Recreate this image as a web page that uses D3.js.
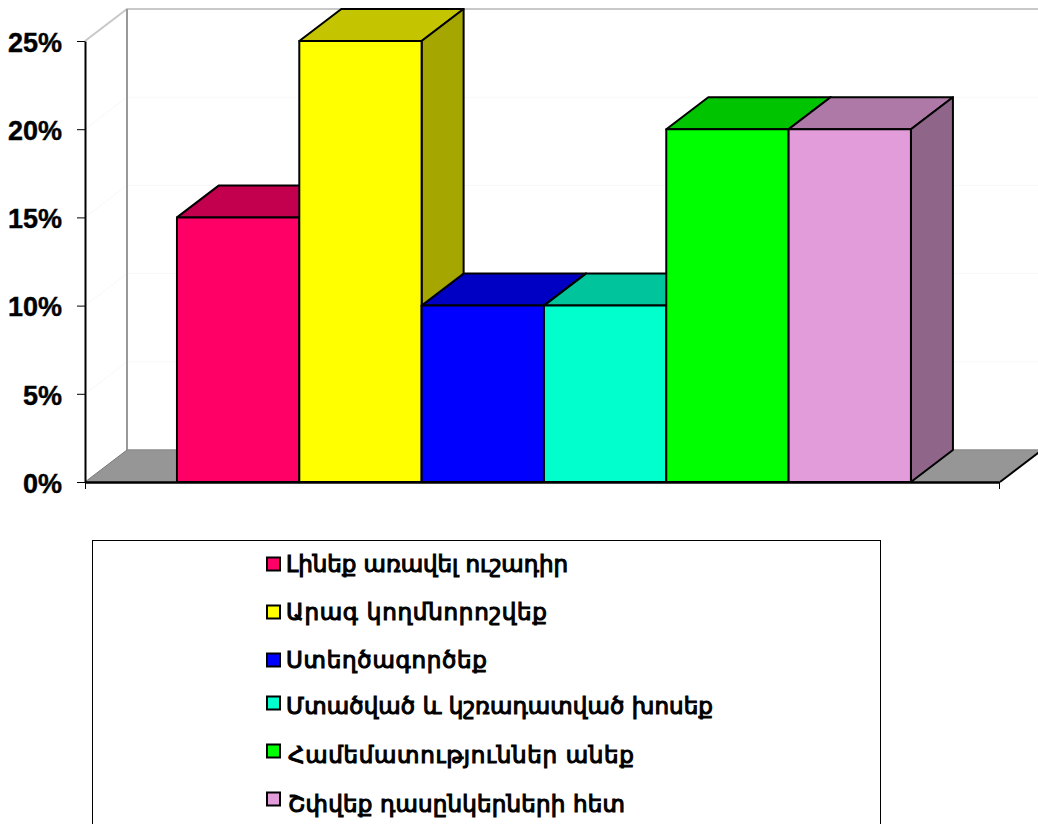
<!DOCTYPE html>
<html lang="hy">
<head>
<meta charset="utf-8">
<script src="https://cdn.jsdelivr.net/npm/d3@7/dist/d3.min.js"></script>
<style>
  html, body { margin: 0; padding: 0; background: #fff; overflow: hidden; }
  svg { display: block; }
  .tick-label { font: bold 27px "Liberation Sans", Arial, sans-serif; fill: #000; stroke: #000; stroke-width: 0.4px; }
  .legend-label { font: normal 23px "DejaVu Sans", sans-serif; fill: #000; stroke: #000; stroke-width: 1.1px; }
</style>
</head>
<body>
<svg id="chart" width="1038" height="824"></svg>
<script>
// Survey answers, one bar per recommendation
const categories = [
  "Լինեք առավել ուշադիր",
  "Արագ կողմնորոշվեք",
  "Ստեղծագործեք",
  "Մտածված և կշռադատված խոսեք",
  "Համեմատություններ անեք",
  "Շփվեք դասընկերների հետ"
];
const shares = [0.15, 0.25, 0.10, 0.10, 0.20, 0.20];
const faceColors = ["#ff0066", "#ffff00", "#0000ff", "#00ffcc", "#00ff00", "#e29cd9"];
const topColors = ["#c3004e", "#c4c400", "#0000c4", "#00c49c", "#00c400", "#ae78a7"];
const sideColors = ["#a60042", "#a6a600", "#0000a6", "#00a685", "#00a600", "#8f668a"];
const yTicks = [0, 0.05, 0.10, 0.15, 0.20, 0.25];

// Oblique projection offset of the chart box
const depthX = 42, depthY = -32;
const plotLeft = 85, plotRight = 1000, plotBase = 482, plotTop = 41;

// Set width of each legend label in pixels
const legendLabelWidths = [282, 261, 201, 427, 346, 337];

const svg = d3.select("#chart");

const y = d3.scaleLinear().domain([0, 0.25]).range([plotBase, plotTop]);
const x = d3.scaleBand().domain(categories).range([plotLeft, plotRight])
  .paddingInner(0).paddingOuter(0.74).align(0.508);
const edge = d3.scaleLinear().domain([0, 1]).range([plotLeft, plotRight - 1]);

const poly = pts => pts.map(p => p.join(",")).join(" ");
const back = ([px, py]) => [px + depthX, py + depthY];

// Walls
const walls = svg.append("g");
walls.append("polygon")
  .attr("points", poly([[plotLeft, plotTop], back([plotLeft, plotTop]), back([plotLeft, plotBase]), [plotLeft, plotBase]]))
  .attr("fill", "#fff");

// Faint gridlines on the side wall and the back wall
yTicks.slice(1, -1).forEach(t => {
  walls.append("polyline")
    .attr("points", poly([[plotLeft, y(t)], back([plotLeft, y(t)]), back([plotRight, y(t)])]))
    .attr("fill", "none").attr("stroke", "#f8f8f8").attr("stroke-width", 1);
});

// Wall outlines
walls.append("polyline")
  .attr("points", poly([[plotLeft, plotTop], back([plotLeft, plotTop]), back([plotRight, plotTop])]))
  .attr("fill", "none").attr("stroke", "#c8c8c8").attr("stroke-width", 2);
walls.append("line")
  .attr("x1", plotLeft + depthX).attr("x2", plotLeft + depthX)
  .attr("y1", plotTop + depthY).attr("y2", plotBase + depthY)
  .attr("stroke", "#999").attr("stroke-width", 2);

// Floor
walls.append("polygon")
  .attr("points", poly([[plotLeft, plotBase], back([plotLeft, plotBase]), back([plotRight, plotBase]), [plotRight, plotBase]]))
  .attr("fill", "#969696");
walls.append("line")
  .attr("x1", plotLeft + depthX).attr("x2", plotRight + depthX)
  .attr("y1", plotBase + depthY).attr("y2", plotBase + depthY)
  .attr("stroke", "#8c8c8c").attr("stroke-width", 1.5);
walls.append("line")
  .attr("x1", plotLeft).attr("y1", plotBase)
  .attr("x2", plotLeft + depthX).attr("y2", plotBase + depthY)
  .attr("stroke", "#777").attr("stroke-width", 1);
walls.append("line")
  .attr("x1", plotRight).attr("y1", plotBase)
  .attr("x2", plotRight + depthX).attr("y2", plotBase + depthY)
  .attr("stroke", "#000").attr("stroke-width", 2);

// Bars, drawn left to right so each one overlaps the previous side face
const bars = svg.append("g")
  .attr("stroke", "#000").attr("stroke-width", 2).attr("stroke-linejoin", "round");

categories.forEach((c, i) => {
  const x0 = x(c), x1 = x0 + x.bandwidth(), yv = y(shares[i]);
  const g = bars.append("g");
  g.append("polygon")
    .attr("points", poly([[x0, yv], back([x0, yv]), back([x1, yv]), [x1, yv]]))
    .attr("fill", topColors[i]);
  g.append("polygon")
    .attr("points", poly([[x1, yv], back([x1, yv]), back([x1, plotBase]), [x1, plotBase]]))
    .attr("fill", sideColors[i]);
  g.append("rect")
    .attr("x", x0).attr("y", yv)
    .attr("width", x.bandwidth()).attr("height", plotBase - yv)
    .attr("fill", faceColors[i]);
});

// Axes
const yAxis = svg.append("g")
  .attr("transform", `translate(${plotLeft},0)`)
  .call(d3.axisLeft(y).tickValues(yTicks).tickSize(8).tickSizeOuter(0)
    .tickFormat(d3.format(".0%")).tickPadding(15));
yAxis.attr("font-family", null).attr("font-size", null);
yAxis.select(".domain").attr("stroke", "#000").attr("stroke-width", 2);
yAxis.selectAll(".tick line").attr("stroke", "#000").attr("stroke-width", 1);
yAxis.selectAll("text").attr("class", "tick-label").attr("fill", null).attr("dy", "0.38em");

const xAxis = svg.append("g")
  .attr("transform", `translate(0,${plotBase})`)
  .call(d3.axisBottom(edge).tickValues([0, 1]).tickSize(7).tickSizeOuter(0).tickFormat(""));
xAxis.select(".domain").attr("stroke", "#000").attr("stroke-width", 2.5);
xAxis.selectAll(".tick line").attr("stroke", "#000").attr("stroke-width", 1);

// Legend, its frame running past the lower edge of the page
const legend = svg.append("g");
legend.append("rect")
  .attr("x", 92.5).attr("y", 540.5).attr("width", 788).attr("height", 300)
  .attr("fill", "#fff").attr("stroke", "#000").attr("stroke-width", 1);

const legendRow = d3.scalePoint().domain(categories).range([572, 812]);
categories.forEach((c, i) => {
  const row = legend.append("g").attr("transform", `translate(0,${legendRow(c)})`);
  // The lower three swatches sit a little higher against their labels
  const swatchLift = i >= 3 ? 5 : 0;
  const labelLift = i === 3 ? 2 : i === 4 ? 1 : 0;
  row.append("rect")
    .attr("x", 267).attr("y", -14.5 - swatchLift).attr("width", 13).attr("height", 13)
    .attr("fill", faceColors[i]).attr("stroke", "#000").attr("stroke-width", 2);
  row.append("text").attr("class", "legend-label")
    .attr("x", i >= 4 ? 288 : 286).attr("y", -labelLift)
    .attr("textLength", legendLabelWidths[i]).attr("lengthAdjust", "spacing")
    .text(c);
});
</script>
</body>
</html>
